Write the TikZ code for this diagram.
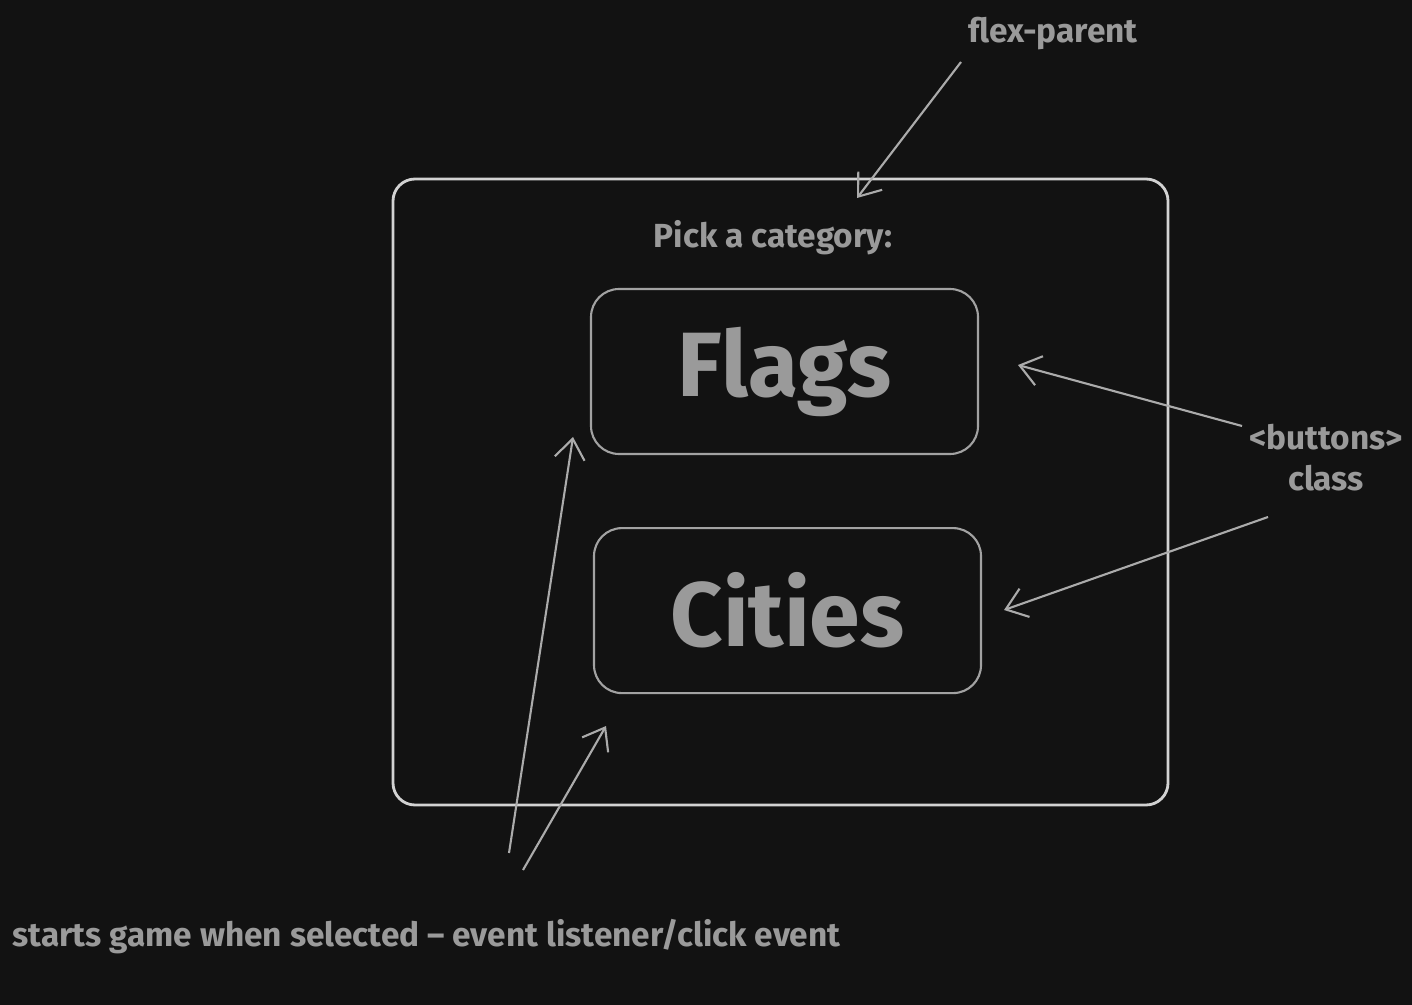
\documentclass[tikz,border=0pt]{standalone}
\usepackage{fontspec}
\setmainfont{Fira Sans}
\usetikzlibrary{positioning}
\usetikzlibrary{calc}
\usetikzlibrary{arrows.meta}
\definecolor{bg}{HTML}{121212}
\definecolor{ink}{HTML}{9A9A9A}
\definecolor{framec}{HTML}{D2D2D2}
\definecolor{btnc}{HTML}{A2A2A2}
\definecolor{arrc}{HTML}{ABABAB}
\tikzset{
lbl/.style={
  text=ink,
  font=\bfseries\fontsize{9.5}{11.7}\selectfont,
  inner sep=0pt,
  align=center
  },
btnbox/.style={
  draw=btnc,
  line width=0.6pt,
  rounded corners=0.28cm,
  minimum width=3.87cm,
  minimum height=1.65cm,
  text=ink,
  font=\bfseries\fontsize{26}{30}\selectfont
  },
pointer/.style={
  ->,
  draw=arrc,
  line width=0.6pt
  }
}

\begin{document}
\begin{tikzpicture}[>={Straight Barb[length=2mm,width=3mm]}]
\fill[bg] (0,0) rectangle (14.12,-10.05);
% the flex parent and its two buttons
\node[draw=framec, line width=0.8pt, rounded corners=0.22cm, minimum width=7.75cm, minimum height=6.26cm] (parent) at (7.805,-4.92) {};
\node[lbl] (pick) at (7.73,-2.38) {Pick a category:};
\node[btnbox] (flags) at (7.845,-3.715) {Flags};
\node[btnbox] (cities) [below=0.72cm of flags, xshift=0.03cm] {Cities};
% notes
\node[lbl] (flexlbl) at (10.53,-0.34) {flex-parent};
\node[lbl] (btnlbl) at (13.26,-4.58) {<buttons>\\class};
\node[lbl] (clicklbl) at (4.265,-9.37) {starts game when selected -- event listener/click event};
\coordinate (flexTail) at (9.61,-0.62);
\coordinate (flexTip) at (8.57,-1.98);
\coordinate (btnTailA) at (12.42,-4.26);
\coordinate (btnTipA) at (10.18,-3.65);
\coordinate (btnTailB) at (12.68,-5.17);
\coordinate (btnTipB) at (10.04,-6.10);
\coordinate (clickTailA) at (5.09,-8.53);
\coordinate (clickTipA) at (5.73,-4.37);
\coordinate (clickTailB) at (5.23,-8.70);
\coordinate (clickTipB) at (6.06,-7.26);
\path
(flexTail) edge [pointer] (flexTip)
(btnTailA) edge [pointer] (btnTipA)
(btnTailB) edge [pointer] (btnTipB)
(clickTailA) edge [pointer] (clickTipA)
(clickTailB) edge [pointer] (clickTipB)
;
\end{tikzpicture}
\end{document}
